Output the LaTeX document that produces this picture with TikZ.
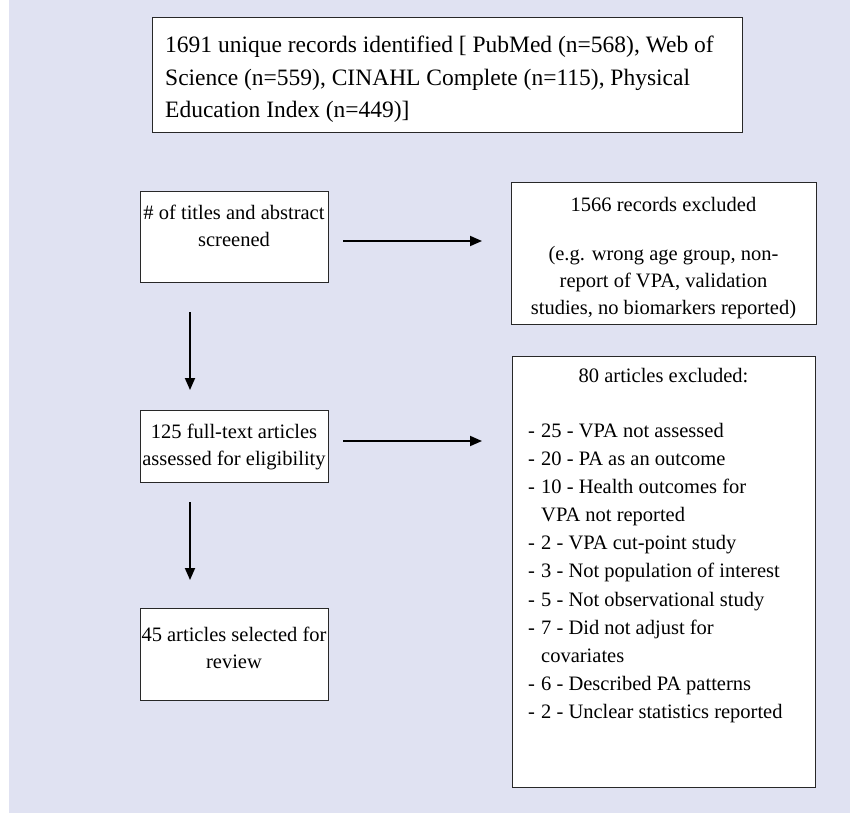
\documentclass[tikz,border=0pt]{standalone}
\usepackage{fontspec}
\setmainfont{Liberation Serif}
\usetikzlibrary{arrows.meta}
\definecolor{bgc}{RGB}{224,226,242}
\definecolor{edgec}{RGB}{40,40,40}
\tikzset{
  box/.style={draw=edgec, line width=1.2pt, fill=white, inner sep=0pt, anchor=north west},
  txt/.style={inner sep=0pt, font=\fontsize{20.5}{27}\selectfont},
  bigtxt/.style={inner sep=0pt, font=\fontsize{23.5}{32.5}\selectfont},
  listtxt/.style={inner sep=0pt, font=\fontsize{20.5}{28.1}\selectfont},
  flow/.style={line width=1.8pt, -{Triangle[length=12pt,width=10pt]}}
}
\newcommand{\itm}{\makebox[13pt][l]{-}}
\begin{document}
\begin{tikzpicture}[x=1pt,y=-1pt]
\fill[white] (0,0) rectangle (850,813);
\fill[bgc] (9,0) rectangle (850,813);
\useasboundingbox (0,0) rectangle (850,813);

% boxes
\node[box, minimum width=590pt, minimum height=115pt] (ident) at (152,17) {};
\node[box, minimum width=188pt, minimum height=91pt] (screen) at (140,191) {};
\node[box, minimum width=305pt, minimum height=142pt] (excl1) at (511,182) {};
\node[box, minimum width=188pt, minimum height=72pt] (full) at (140,410) {};
\node[box, minimum width=303pt, minimum height=431pt] (excl2) at (512,356) {};
\node[box, minimum width=188pt, minimum height=92pt] (sel) at (140,608) {};

% texts
\node[bigtxt, anchor=north west, align=left] (identtxt) at (165,36)
  {1691 unique records identified [ PubMed (n=568), Web of\\
   Science (n=559), CINAHL Complete (n=115), Physical\\
   Education Index (n=449)]};
\node[txt, anchor=north, align=center] (screentxt) at (234,205)
  {\# of titles and abstract\\ screened};
\node[txt, anchor=north, align=center] (excl1txt) at (663.5,197)
  {1566 records excluded\\[22pt]
   (e.g. wrong age group, non-\\
   report of VPA, validation\\
   studies, no biomarkers reported)};
\node[txt, anchor=north, align=center] (fulltxt) at (234,424)
  {125 full-text articles\\ assessed for eligibility};
\node[txt, anchor=north, align=center] (seltxt) at (234,627)
  {45 articles selected for\\ review};
\node[txt, anchor=north, align=center] (excl2title) at (663.5,368)
  {80 articles excluded:};
\node[listtxt, anchor=north west, align=left] (excl2list) at (528,423)
  {\itm 25 - VPA not assessed\\
   \itm 20 - PA as an outcome\\
   \itm 10 - Health outcomes for\\
   \hspace*{13pt}VPA not reported\\
   \itm 2 - VPA cut-point study\\
   \itm 3 - Not population of interest\\
   \itm 5 - Not observational study\\
   \itm 7 - Did not adjust for\\
   \hspace*{13pt}covariates\\
   \itm 6 - Described PA patterns\\
   \itm 2 - Unclear statistics reported};

% connectors
\coordinate (h1s) at (343,241);
\coordinate (h1e) at (482,241);
\coordinate (h2s) at (343,441);
\coordinate (h2e) at (482,441);
\coordinate (v1s) at (190,312);
\coordinate (v1e) at (190,390);
\coordinate (v2s) at (190,502);
\coordinate (v2e) at (190,580);
\draw[flow] (h1s) -- (h1e);
\draw[flow] (h2s) -- (h2e);
\draw[flow] (v1s) -- (v1e);
\draw[flow] (v2s) -- (v2e);
\end{tikzpicture}
\end{document}
